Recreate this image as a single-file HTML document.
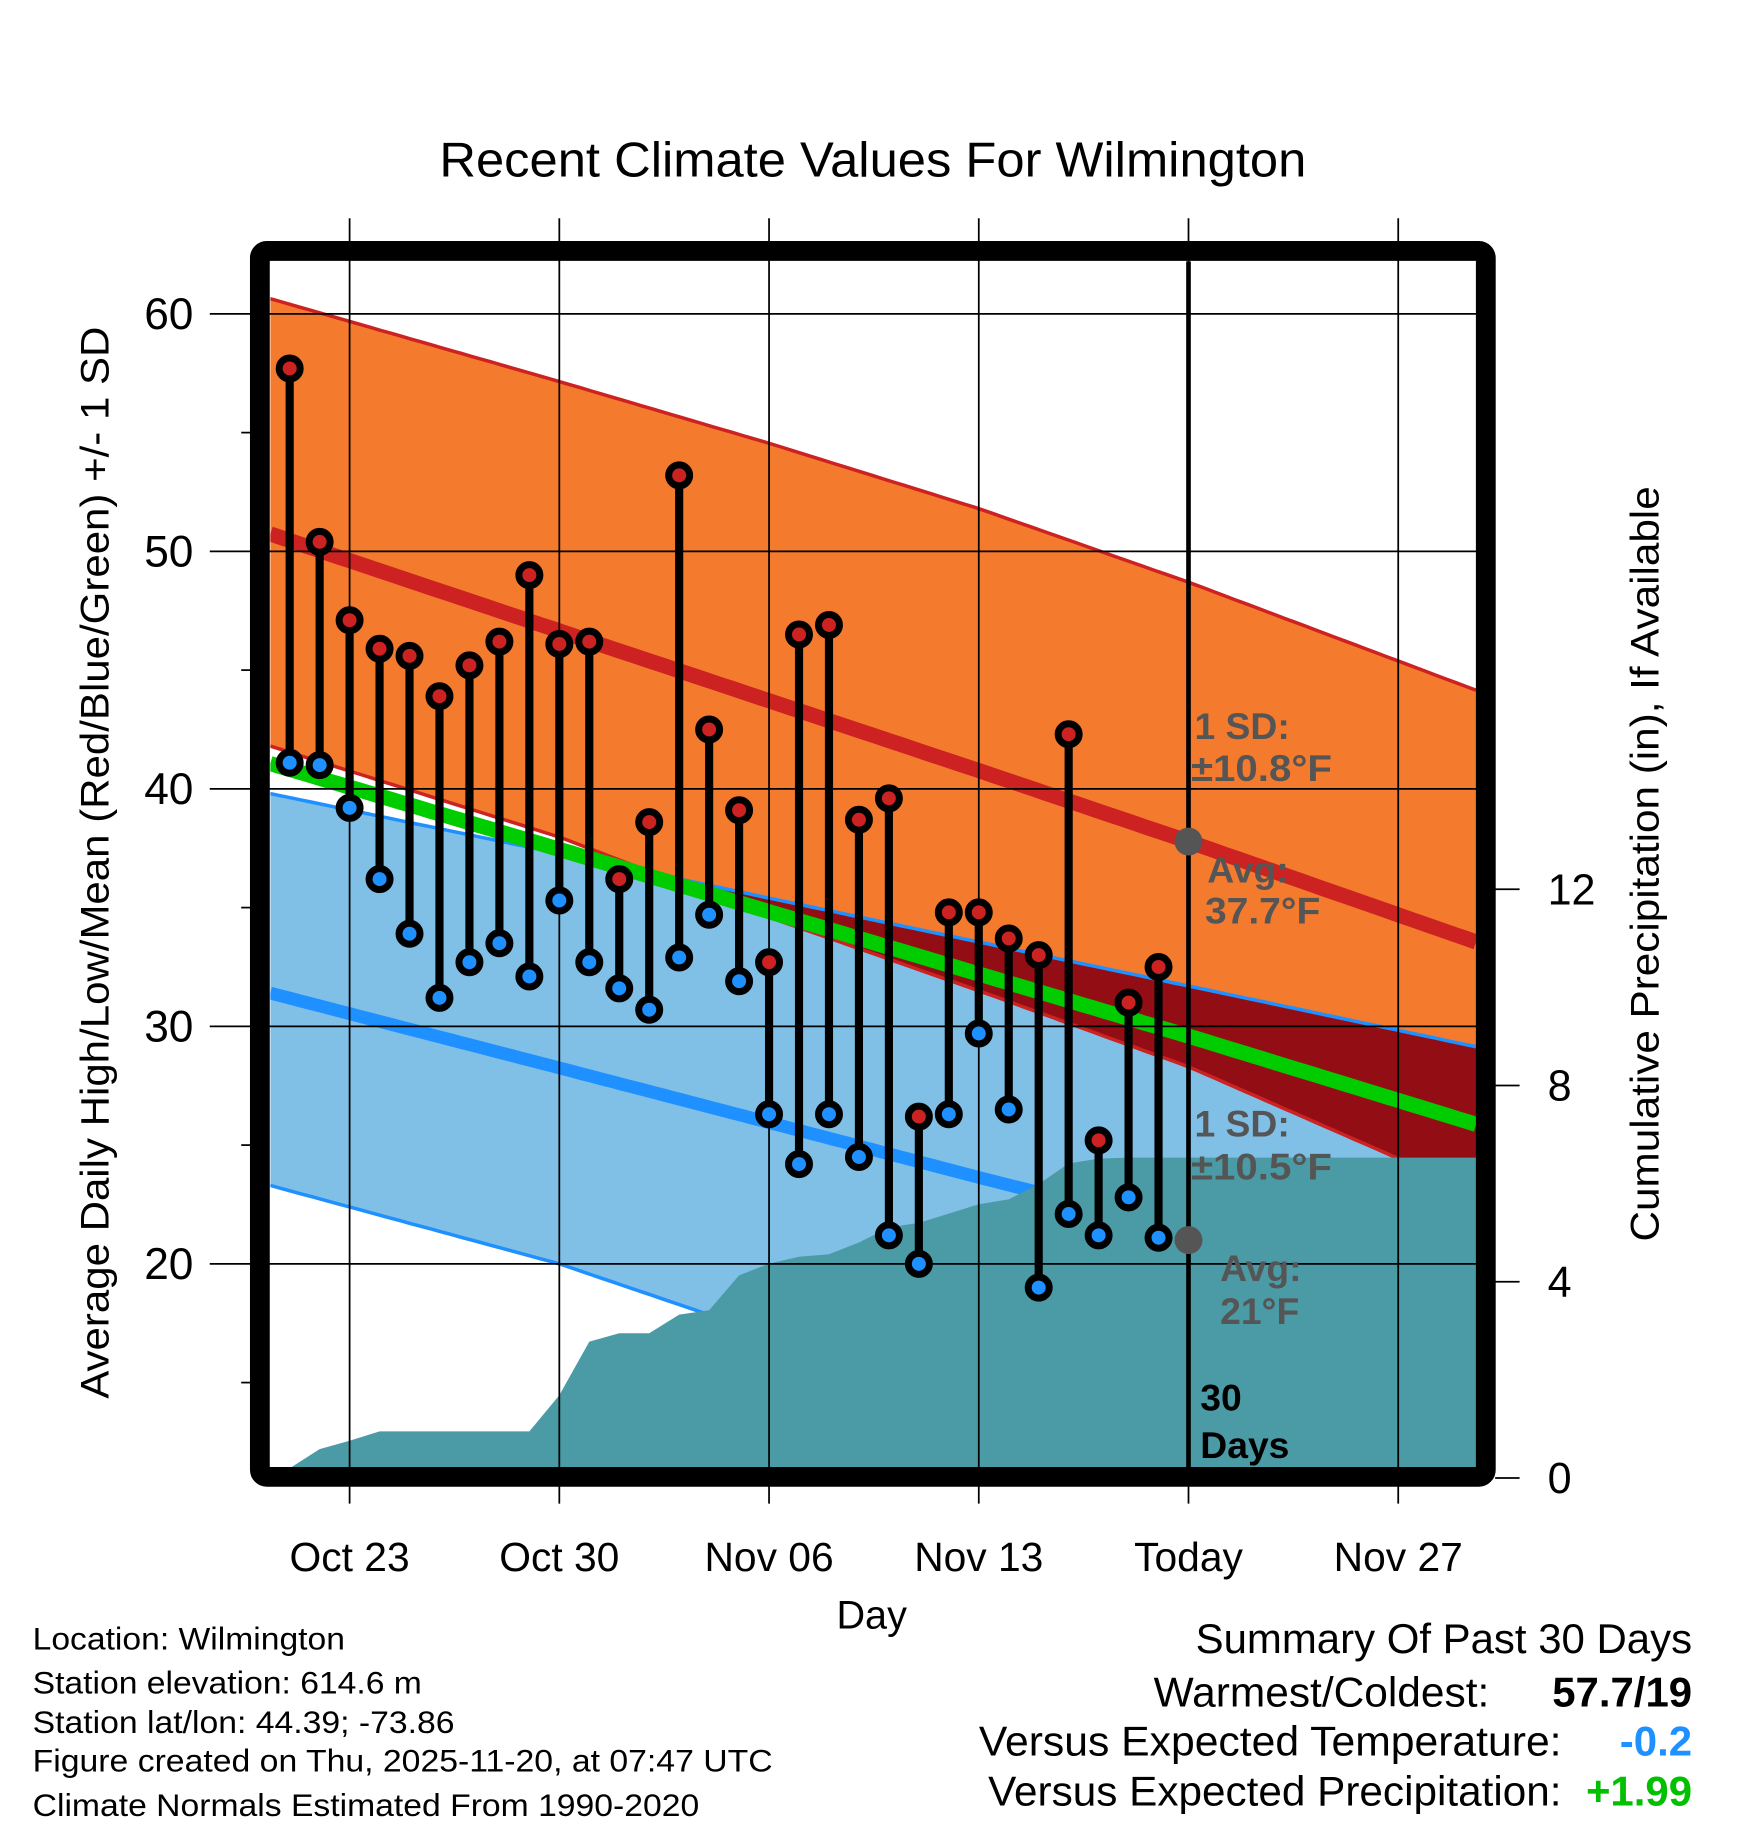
<!DOCTYPE html>
<html><head><meta charset="utf-8"><style>
html,body{margin:0;padding:0;background:#fff;}
svg{display:block;font-family:"Liberation Sans",sans-serif;}
</style></head><body>
<svg id="chart" width="1748" height="1828" viewBox="0 0 1500 1568" xmlns="http://www.w3.org/2000/svg">
<defs><clipPath id="plotclip"><rect x="232" y="224" width="1035" height="1035"/></clipPath></defs>
<g id="fills" clip-path="url(#plotclip)"></g>
<g id="grid"></g>
<g id="marks"></g>
<rect x="223" y="215" width="1052" height="1052" fill="none" stroke="#000" stroke-width="17" rx="6"/>
<g id="axes"></g>
<text x="749" y="151" font-size="42" text-anchor="middle" textLength="744" lengthAdjust="spacingAndGlyphs">Recent Climate Values For Wilmington</text>
<text x="748" y="1397" font-size="34" text-anchor="middle">Day</text>
<text transform="translate(93,740) rotate(-90)" font-size="34" text-anchor="middle" textLength="920" lengthAdjust="spacingAndGlyphs">Average Daily High/Low/Mean (Red/Blue/Green) +/- 1 SD</text>
<text transform="translate(1423,741) rotate(-90)" font-size="34" text-anchor="middle" textLength="648" lengthAdjust="spacingAndGlyphs">Cumulative Precipitation (in), If Available</text>
<g font-size="27">
<text x="28" y="1415" textLength="268" lengthAdjust="spacingAndGlyphs">Location: Wilmington</text>
<text x="28" y="1453" textLength="334" lengthAdjust="spacingAndGlyphs">Station elevation: 614.6 m</text>
<text x="28" y="1487" textLength="362" lengthAdjust="spacingAndGlyphs">Station lat/lon: 44.39; -73.86</text>
<text x="28" y="1520" textLength="635" lengthAdjust="spacingAndGlyphs">Figure created on Thu, 2025-11-20, at 07:47 UTC</text>
<text x="28" y="1558" textLength="572" lengthAdjust="spacingAndGlyphs">Climate Normals Estimated From 1990-2020</text>
</g>
<g font-size="36" text-anchor="end">
<text x="1452" y="1418" textLength="426" lengthAdjust="spacingAndGlyphs">Summary Of Past 30 Days</text>
<text x="1278" y="1464" textLength="288" lengthAdjust="spacingAndGlyphs">Warmest/Coldest:</text>
<text x="1452" y="1464" font-weight="bold" textLength="120" lengthAdjust="spacingAndGlyphs">57.7/19</text>
<text x="1340" y="1506" textLength="500" lengthAdjust="spacingAndGlyphs">Versus Expected Temperature:</text>
<text x="1452" y="1506" font-weight="bold" fill="#1e90ff">-0.2</text>
<text x="1340" y="1549" textLength="492" lengthAdjust="spacingAndGlyphs">Versus Expected Precipitation:</text>
<text x="1452" y="1549" font-weight="bold" fill="#00c000">+1.99</text>
</g>
</svg>
<script>
const days = [-2,-1,0,1,2,3,4,5,6,7,8,9,10,11,12,13,14,15,16,17,18,19,20,21,22,23,24,25,26,27];
const highs = [57.7,50.4,47.1,45.9,45.6,43.9,45.2,46.2,49.0,46.1,46.2,36.2,38.6,53.2,42.5,39.1,32.7,46.5,46.9,38.7,39.6,26.2,34.8,34.8,33.7,33.0,42.3,25.2,31.0,32.5];
const lows = [41.1,41.0,39.2,36.2,33.9,31.2,32.7,33.5,32.1,35.3,32.7,31.6,30.7,32.9,34.7,31.9,26.3,24.2,26.3,24.5,21.2,20.0,26.3,29.7,26.5,19.0,22.1,21.2,22.8,21.1];
const precip = [0.2,0.59,0.76,0.95,0.95,0.95,0.95,0.95,0.95,1.69,2.78,2.95,2.95,3.33,3.42,4.13,4.37,4.51,4.56,4.80,5.11,5.20,5.39,5.58,5.68,5.99,6.41,6.51,6.53,6.53];
const normDays = [-2.65,7,14,21,28,37.6];
const hiUpper = [60.64,57.15,54.55,51.8,48.7,44.15];
const avgHigh = [50.73,46.65,43.71,40.77,37.78,33.55];
const hiLower = [41.8,37.97,34.6,31.5,28.3,23.0];
const loUpper = [39.8,37.28,35.4,33.55,31.7,29.14];
const avgLow = [31.4,28.25,25.95,23.64,21.4,18.2];
const loLower = [23.3,20.0,17.0,14.0,11.5,8.0];
const xTickDays = [0,7,14,21,28,35];
const xTickLabels = ["Oct 23","Oct 30","Nov 06","Nov 13","Today","Nov 27"];
const yTicks = [20,30,40,50,60];
const yMinor = [15,25,35,45,55];
const pTicks = [0,4,8,12];
const todayDay = 28;

const NS = "http://www.w3.org/2000/svg";
const X = d => 300 + (d) * 25.71;
const Y = t => 269 + (60 - t) * 20.38;
const P = p => 1268 - p * 42.1;
function mk(tag, attrs, parent){const e=document.createElementNS(NS,tag);for(const k in attrs)e.setAttribute(k,attrs[k]);parent.appendChild(e);return e;}
function interp(arr, d){
  for(let i=0;i<normDays.length-1;i++){
    if(d<=normDays[i+1]||i===normDays.length-2){const t=(d-normDays[i])/(normDays[i+1]-normDays[i]);return arr[i]+t*(arr[i+1]-arr[i]);}
  }
}
const N=120, d0=normDays[0], d1=normDays[normDays.length-1];
const samp=[];for(let i=0;i<=N;i++)samp.push(d0+(d1-d0)*i/N);
function band(upper, lower){
  const a=samp.map(d=>X(d).toFixed(1)+","+Y(upper(d)).toFixed(1));
  const b=samp.slice().reverse().map(d=>X(d).toFixed(1)+","+Y(lower(d)).toFixed(1));
  return a.concat(b).join(" ");
}
function line(f){return samp.map(d=>X(d).toFixed(1)+","+Y(f(d)).toFixed(1)).join(" ");}
const fills=document.getElementById("fills");
let e;
e=mk("polygon",{points:band(d=>interp(hiUpper,d),d=>interp(hiLower,d)),fill:"#f47a2e"},fills);


e=mk("polygon",{points:band(d=>interp(loUpper,d),d=>interp(loLower,d)),fill:"#80c0e6"},fills);


e=mk("polygon",{points:band(d=>Math.min(interp(hiUpper,d),interp(loUpper,d)),d=>{const lo=Math.max(interp(hiLower,d),interp(loLower,d));return Math.min(lo,Math.min(interp(hiUpper,d),interp(loUpper,d)));}),fill:"#920e14"},fills);


[[hiUpper,"#cc2222",3,'high-upper-sd-line'],[hiLower,"#cc2222",3,'high-lower-sd-line'],[loUpper,"#1e90ff",3,'low-upper-sd-line'],[loLower,"#1e90ff",3,'low-lower-sd-line'],[avgHigh,"#cc2222",13,'avg-high-line'],[avgLow,"#1e90ff",11,'avg-low-line']].forEach(s=>{
  e=mk("polyline",{points:line(d=>interp(s[0],d)),fill:"none",stroke:s[1],"stroke-width":s[2]},fills);
  
  
});
e=mk("polyline",{points:line(d=>(interp(avgHigh,d)+interp(avgLow,d))/2),fill:"none",stroke:"#00cc00","stroke-width":13},fills);


let pp=[X(d0)+","+P(0), X(days[0])+","+P(0)];
days.forEach((d,i)=>pp.push(X(d).toFixed(1)+","+P(precip[i]).toFixed(1)));
pp.push(X(d1)+","+P(precip[precip.length-1]).toFixed(1));
pp.push(X(d1)+","+P(0));
e=mk("polygon",{points:pp.join(" "),fill:"#4a9ba5"},fills);



const grid=document.getElementById("grid");
xTickDays.forEach(d=>{
  e=mk("line",{x1:X(d),x2:X(d),y1:187,y2:1290,stroke:"#000","stroke-width":1.5},grid);
  
  
});
yTicks.forEach(t=>{
  e=mk("line",{x1:180,x2:1267,y1:Y(t),y2:Y(t),stroke:"#000","stroke-width":1.5},grid);
  
  
});
yMinor.forEach(t=>{
  e=mk("line",{x1:207,x2:220,y1:Y(t),y2:Y(t),stroke:"#000","stroke-width":1.5},grid);
  
  
});

const marks=document.getElementById("marks");
days.forEach((d,i)=>{
  e=mk("line",{x1:X(d),x2:X(d),y1:Y(highs[i]),y2:Y(lows[i]),stroke:"#000","stroke-width":7},marks);
  
  
});
days.forEach((d,i)=>{
  e=mk("circle",{cx:X(d),cy:Y(highs[i]),r:9,fill:"#cc2222",stroke:"#000","stroke-width":6},marks);
  
  
  e=mk("circle",{cx:X(d),cy:Y(lows[i]),r:9,fill:"#1e90ff",stroke:"#000","stroke-width":6},marks);
  
  
});
e=mk("line",{x1:X(todayDay),x2:X(todayDay),y1:224,y2:1260,stroke:"#000","stroke-width":4},marks);


e=mk("circle",{cx:X(todayDay),cy:Y(interp(avgHigh,todayDay)),r:12,fill:"#555"},marks);


e=mk("circle",{cx:X(todayDay),cy:Y(21),r:12,fill:"#555"},marks);


const ann=[["1 SD:",1025,634,"#555",0],["\u00b110.8\u00b0F",1022,670,"#555",121],["Avg:",1036,757,"#555",0],["37.7\u00b0F",1034,792,"#555",99],["1 SD:",1025,975,"#555",0],["\u00b110.5\u00b0F",1022,1012,"#555",121],["Avg:",1047,1099,"#555",0],["21\u00b0F",1047,1136,"#555",0],["30",1030,1210,"#000",0],["Days",1030,1251,"#000",0]];
ann.forEach(a=>{
  e=mk("text",{x:a[1],y:a[2],"font-size":32,"font-weight":"bold",fill:a[3]},marks);
  if(a[4]){e.setAttribute("textLength",a[4]);e.setAttribute("lengthAdjust","spacingAndGlyphs");}
  e.textContent=a[0];
  
  
});

const axes=document.getElementById("axes");
xTickDays.forEach((d,i)=>{
  e=mk("text",{x:X(d),y:1348,"font-size":35,"text-anchor":"middle"},axes);
  e.textContent=xTickLabels[i];
  
  
});
yTicks.forEach(t=>{
  e=mk("text",{x:166,y:Y(t)+13,"font-size":38,"text-anchor":"end"},axes);
  e.textContent=t;
  
  
});
pTicks.forEach(p=>{
  e=mk("line",{x1:1283,x2:1304,y1:P(p),y2:P(p),stroke:"#000","stroke-width":1.5},axes);
  
  
  e=mk("text",{x:1328,y:P(p)+13,"font-size":37,"text-anchor":"start"},axes);
  e.textContent=p;
  
  
});
</script>
</body></html>
